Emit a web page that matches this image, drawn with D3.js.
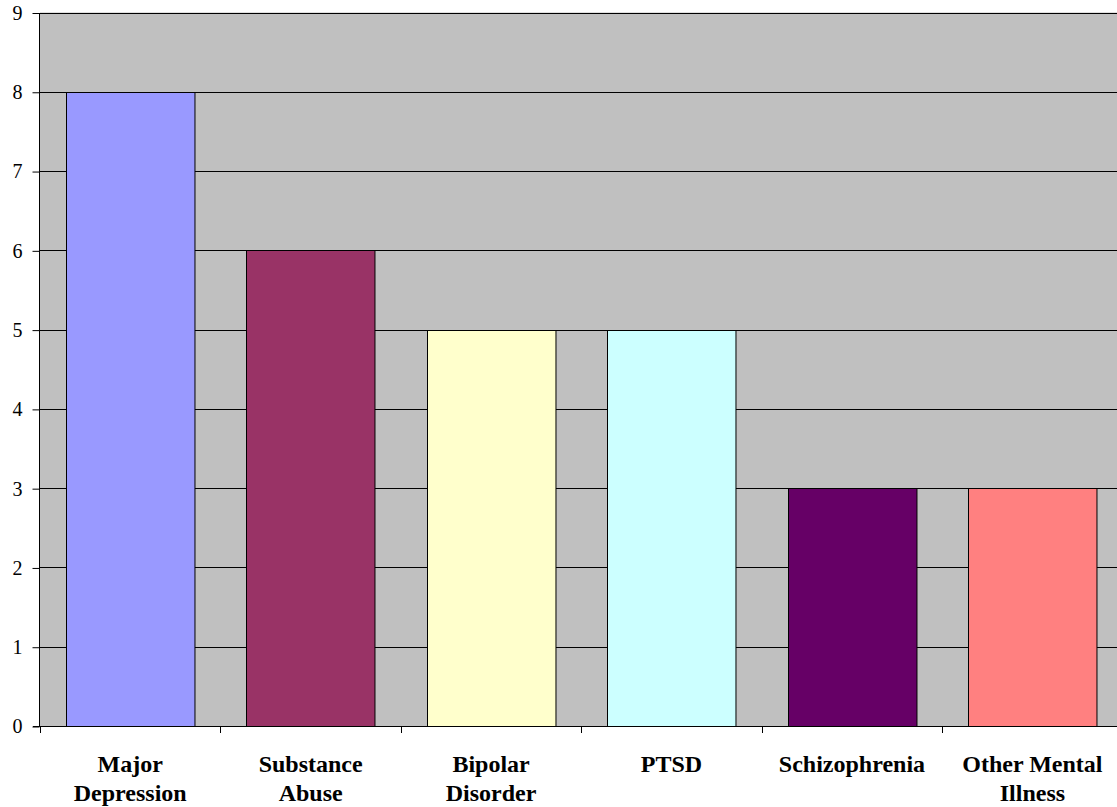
<!DOCTYPE html>
<html>
<head>
<meta charset="utf-8">
<script src="https://cdn.jsdelivr.net/npm/d3@7"></script>
<style>
  html, body { margin: 0; padding: 0; background: #fff; }
  svg { display: block; }
  .serif { font-family: "Liberation Serif", "Times New Roman", Times, "DejaVu Serif", serif; }
</style>
</head>
<body>
<svg id="chart" width="1117" height="807"></svg>
<script>
// Diagnoses and counts
const categories = [
  ["Major", "Depression"],
  ["Substance", "Abuse"],
  ["Bipolar", "Disorder"],
  ["PTSD"],
  ["Schizophrenia"],
  ["Other Mental", "Illness"]
];
const counts = [8, 6, 5, 5, 3, 3];
const barColors = ["#9999FF", "#993366", "#FFFFCC", "#CCFFFF", "#660066", "#FF8080"];
const yTicks = [0, 1, 2, 3, 4, 5, 6, 7, 8, 9];

const svg = d3.select("#chart");
const plotLeft = 40, plotRight = 1122.6, plotTop = 12.5, plotBottom = 726;

const x = d3.scaleBand()
  .domain(d3.range(categories.length))
  .range([plotLeft, plotRight])
  .paddingInner(0.288)
  .paddingOuter(0.144);

const y = d3.scaleLinear().domain([0, 9]).range([plotBottom, plotTop]);

// plot background
svg.append("rect")
  .attr("x", plotLeft).attr("y", plotTop)
  .attr("width", plotRight - plotLeft).attr("height", plotBottom - plotTop)
  .attr("fill", "#C0C0C0");

// horizontal gridlines
svg.append("g")
  .selectAll("line")
  .data(yTicks.filter(d => d > 0))
  .join("line")
  .attr("x1", plotLeft).attr("x2", plotRight)
  .attr("y1", d => Math.round(y(d)) + 0.5).attr("y2", d => Math.round(y(d)) + 0.5)
  .attr("stroke", "#000").attr("stroke-width", 1);

// bars
svg.append("g")
  .selectAll("rect")
  .data(counts)
  .join("rect")
  .attr("x", (d, i) => Math.round(x(i)) + 0.5)
  .attr("y", d => Math.round(y(d)) + 0.5)
  .attr("width", x.bandwidth())
  .attr("height", d => Math.round(y(0)) - Math.round(y(d)))
  .attr("fill", (d, i) => barColors[i])
  .attr("stroke", "#000").attr("stroke-width", 1);

// y axis
const yAxis = d3.axisLeft(y).tickValues(yTicks).tickSize(7).tickPadding(10).tickFormat(d3.format("d"));
const gy = svg.append("g").attr("transform", `translate(${plotLeft - 0.5},0.5)`).call(yAxis);
gy.attr("font-family", null).attr("font-size", null);
gy.select(".domain").attr("stroke", "#000").attr("d", `M0,${plotTop}V${plotBottom}`);
gy.selectAll(".tick line").attr("stroke", "#000");
gy.selectAll(".tick text")
  .attr("class", "serif")
  .style("font-size", "20px").attr("fill", "#000");

// x axis baseline and category boundary ticks
const gx = svg.append("g");
gx.append("line")
  .attr("x1", plotLeft - 7).attr("x2", plotRight)
  .attr("y1", Math.round(plotBottom) + 0.5).attr("y2", Math.round(plotBottom) + 0.5)
  .attr("stroke", "#000");
const bounds = d3.range(categories.length + 1).map(i => plotLeft + i * x.step());
gx.selectAll("line.tk")
  .data(bounds)
  .join("line")
  .attr("class", "tk")
  .attr("x1", d => Math.round(d) + 0.5).attr("x2", d => Math.round(d) + 0.5)
  .attr("y1", plotBottom).attr("y2", plotBottom + 7)
  .attr("stroke", "#000");

// category labels
const lab = svg.append("g")
  .selectAll("text")
  .data(categories)
  .join("text")
  .attr("class", "serif")
  .attr("x", (d, i) => x(i) + x.bandwidth() / 2)
  .attr("y", 772)
  .attr("text-anchor", "middle")
  .style("font-weight", "bold")
  .style("font-size", "24px")
  .attr("fill", "#000");
lab.selectAll("tspan")
  .data(d => d)
  .join("tspan")
  .attr("x", function () { return d3.select(this.parentNode).attr("x"); })
  .attr("dy", (d, i) => i === 0 ? 0 : 29)
  .text(d => d);
</script>
</body>
</html>
